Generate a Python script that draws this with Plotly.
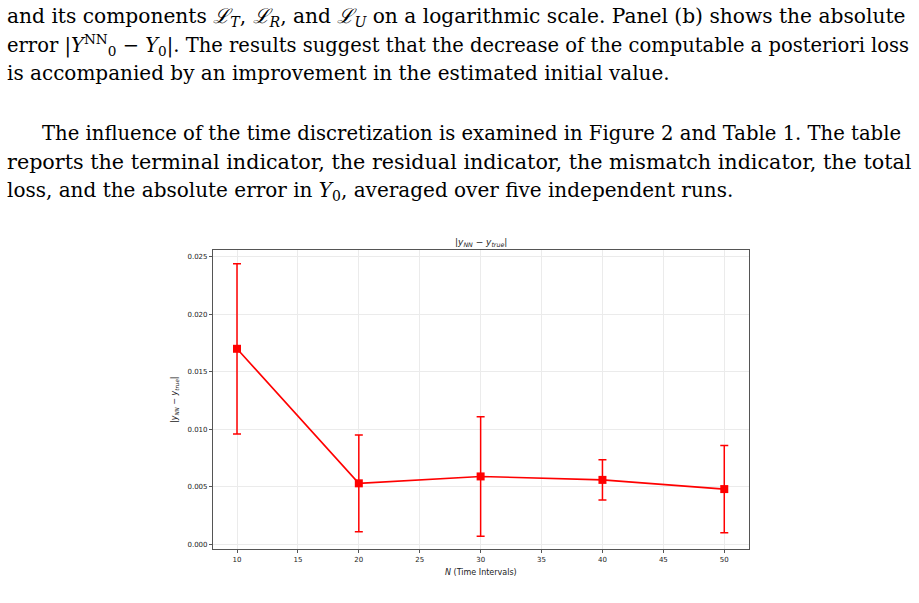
import plotly.graph_objects as go

# ---- data ----
n_intervals = [10, 20, 30, 40, 50]
abs_err_mean = [0.0170, 0.0053, 0.0059, 0.0056, 0.0048]
abs_err_std = [0.0074, 0.0042, 0.0052, 0.00175, 0.0038]
y_ticks = [0.000, 0.005, 0.010, 0.015, 0.020, 0.025]
x_ticks = [10, 15, 20, 25, 30, 35, 40, 45, 50]

para_lines = [
    "and its components <i>ℒ</i><sub><i>T</i></sub>, <i>ℒ</i><sub><i>R</i></sub>, and <i>ℒ</i><sub><i>U</i></sub> on a logarithmic scale. Panel (b) shows the absolute",
    "error |<i>Y</i><sup>NN</sup><sub>0</sub> − <i>Y</i><sub>0</sub>|. The results suggest that the decrease of the computable a posteriori loss",
    "is accompanied by an improvement in the estimated initial value.",
]
para2_lines = [
    "The influence of the time discretization is examined in Figure 2 and Table 1. The table",
    "reports the terminal indicator, the residual indicator, the mismatch indicator, the total",
    "loss, and the absolute error in <i>Y</i><sub>0</sub>, averaged over five independent runs.",
]

W, H = 919, 603
L, R, T, B = 213, 749, 250, 549


def px(x):
    return (x - L) / (R - L)


def py(y):
    return (B - y) / (B - T)


fig = go.Figure()
fig.add_trace(go.Scatter(
    x=n_intervals, y=abs_err_mean,
    mode="lines+markers",
    line=dict(color="#ff0000", width=1.6),
    marker=dict(symbol="square", size=8, color="#ff0000"),
    error_y=dict(type="data", array=abs_err_std, visible=True,
                 color="#ff0000", thickness=1.5, width=4),
    showlegend=False,
))

serif = "DejaVu Serif, serif"
annots = []
# (y position, left x, font size so that justified lines reach the right margin)
layout1 = [(17, 5, 20.2), (45, 5, 19.5), (73, 5, 20)]
for t, (y, x, s) in zip(para_lines, layout1):
    annots.append(dict(text=t, x=px(x), y=py(y), xref="paper", yref="paper",
                       xanchor="left", yanchor="middle", showarrow=False,
                       font=dict(family=serif, size=s, color="#000")))
layout2 = [(133, 40, 19.6), (162, 5, 20.7), (191, 5, 20)]
for t, (y, x, s) in zip(para2_lines, layout2):
    annots.append(dict(text=t, x=px(x), y=py(y), xref="paper", yref="paper",
                       xanchor="left", yanchor="middle", showarrow=False,
                       font=dict(family=serif, size=s, color="#000")))
# fragment of the next line, cut off by the page edge
annots.append(dict(text="NN", x=px(300), y=py(598), xref="paper", yref="paper",
                   xanchor="center", yanchor="top", showarrow=False,
                   font=dict(family=serif, size=15, color="#000")))

sans = "DejaVu Sans, sans-serif"
annots.append(dict(text="|<i>y</i><sub><i>NN</i></sub> − <i>y</i><sub><i>true</i></sub>|",
                   x=0.5, y=py(242), xref="paper", yref="paper",
                   xanchor="center", yanchor="middle", showarrow=False,
                   font=dict(family=sans, size=9, color="#222")))
annots.append(dict(text="|<i>y</i><sub><i>NN</i></sub> − <i>y</i><sub><i>true</i></sub>|",
                   x=px(175), y=py(400), xref="paper", yref="paper",
                   xanchor="center", yanchor="middle", showarrow=False, textangle=-90,
                   font=dict(family=sans, size=8, color="#222")))
annots.append(dict(text="<i>N</i> (Time Intervals)",
                   x=0.5, y=py(572), xref="paper", yref="paper",
                   xanchor="center", yanchor="middle", showarrow=False,
                   font=dict(family=sans, size=8, color="#222")))

fig.update_layout(
    width=W, height=H,
    margin=dict(l=L, r=W - R, t=T, b=H - B, pad=0),
    paper_bgcolor="white", plot_bgcolor="white",
    annotations=annots,
    xaxis=dict(range=[8.03, 52.03], tickvals=x_ticks, ticktext=[str(v) for v in x_ticks],
               showgrid=True, gridcolor="#ebebeb", gridwidth=1, zeroline=False,
               showline=True, linecolor="#555", linewidth=1.2, mirror=True,
               ticks="outside", ticklen=3, tickcolor="#555",
               tickfont=dict(family=sans, size=7, color="#222")),
    yaxis=dict(range=[-0.00041, 0.02559], tickvals=y_ticks,
               ticktext=[f"{v:.3f}" for v in y_ticks],
               showgrid=True, gridcolor="#ebebeb", gridwidth=1, zeroline=False,
               showline=True, linecolor="#555", linewidth=1.2, mirror=True,
               ticks="outside", ticklen=3, tickcolor="#555",
               tickfont=dict(family=sans, size=7, color="#222")),
)

fig.write_html("out.html")
